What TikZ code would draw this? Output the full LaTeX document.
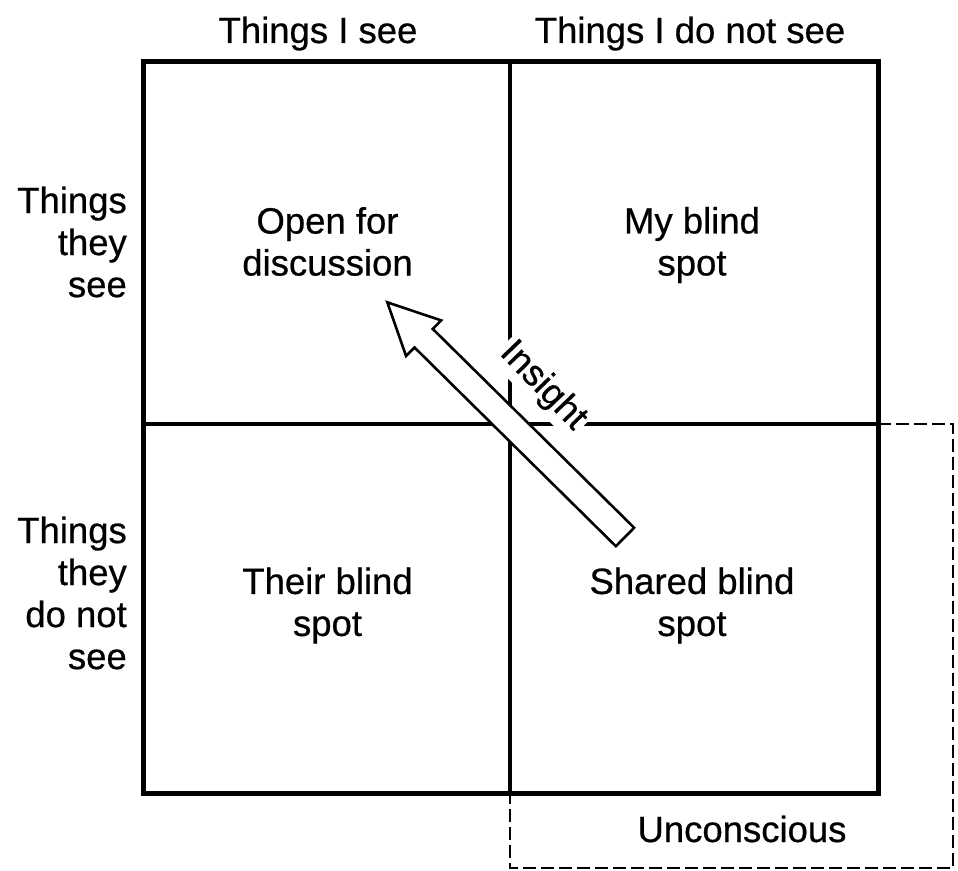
\documentclass[tikz,border=0pt]{standalone}
\usepackage{fontspec}
\setmainfont{Liberation Sans}[BoldFont={Liberation Sans}, BoldFeatures={FakeBold=0.6}]
\begin{document}
\begin{tikzpicture}[x=1pt,y=1pt,
  lbl/.style={inner sep=0pt, font=\fontsize{36.5}{42}\selectfont\bfseries},
  outerbox/.style={line width=5pt, line join=miter},
  divider/.style={line width=3.4pt},
  dashbox/.style={line width=2.2pt, dash pattern=on 13pt off 5pt},
  bigarrow/.style={line width=2.6pt, fill=white, line join=miter}]
\useasboundingbox (0,0) rectangle (958,870);
% coordinates of the grid
\coordinate (TL) at (143,808);
\coordinate (BR) at (878,77);
\coordinate (MT) at (510,808);
\coordinate (MB) at (510,77);
\coordinate (ML) at (143,446);
\coordinate (MR) at (878,446);
\coordinate (DR) at (953,446);
\coordinate (DB) at (953,2);
\coordinate (DL) at (510,2);
% dashed "unconscious" region
\draw[dashbox] (MR) -- (DR) -- (DB) -- (DL) -- (MB);
% dividers
\draw[divider] (MT) -- (MB);
\draw[divider] (ML) -- (MR);
% outer square
\draw[outerbox] (TL) rectangle (BR);
% headings
\node[lbl, anchor=base] (h1) at (318,827) {Things I see};
\node[lbl, anchor=base] (h2) at (690,827) {Things I do not see};
\node[lbl, anchor=east, align=right] (v1) at (127,628) {Things\\they\\see};
\node[lbl, anchor=east, align=right] (v2) at (127,277) {Things\\they\\do not\\see};
% quadrants
\node[lbl, align=center] (q1) at (327.5,628.5) {Open for\\discussion};
\node[lbl, align=center] (q2) at (692,625) {My blind\\spot};
\node[lbl, align=center] (q3) at (327.5,264.5) {Their blind\\spot};
\node[lbl, align=center] (q4) at (692,264.5) {Shared blind\\spot};
\node[lbl, anchor=base] (unc) at (742,28) {Unconscious};
% insight label
\node[lbl, fill=white, inner sep=3pt, rotate=-46] (ins) at (543,484) {Insight};
% insight arrow
\coordinate (tail) at (625,333);
\begin{scope}[shift={(tail)}, rotate=135.37]
\draw[bigarrow] (0,13) -- (283,13) -- (283,25) -- (334,0) -- (283,-25) -- (283,-13) -- (0,-13) -- cycle;
\end{scope}
\end{tikzpicture}
\end{document}
